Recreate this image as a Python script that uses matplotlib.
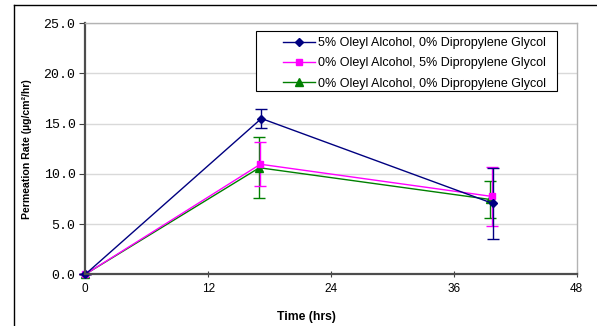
import matplotlib.pyplot as plt
from matplotlib.lines import Line2D
from matplotlib.patches import Rectangle

# permeation data
labels = ['5% Oleyl Alcohol, 0% Dipropylene Glycol',
          '0% Oleyl Alcohol, 5% Dipropylene Glycol',
          '0% Oleyl Alcohol, 0% Dipropylene Glycol']
t_blue = [0, 17.2, 39.8]
y_blue = [0, 15.5, 7.05]
e_blue = [0, 0.95, 3.5]
t_pink = [0, 17.1, 39.7]
y_pink = [0, 10.95, 7.75]
e_pink = [0, 2.2, 2.9]
t_green = [0, 17.0, 39.5]
y_green = [0, 10.6, 7.45]
e_green = [0, 3.05, 1.85]
xticks = [0, 12, 24, 36, 48]
yticks = [0, 5, 10, 15, 20, 25]

W, H = 597, 326
fig = plt.figure(figsize=(5.97, 3.26), dpi=100)
ax = fig.add_axes([0.1429, 0.1586, 0.8231, 0.7708])

# outer frame (left and top edges visible)
fig.add_artist(Line2D([13.5/W, 13.5/W], [0, 1 - 4.7/H], color='black', lw=1.0))
fig.add_artist(Line2D([13.5/W, 1.0], [1 - 4.7/H, 1 - 4.7/H], color='black', lw=1.0))

series = [(t_green, y_green, e_green, '#008000', '^', 5.5),
          (t_pink, y_pink, e_pink, '#FF00FF', 's', 5),
          (t_blue, y_blue, e_blue, '#000080', 'D', 4.5)]
for t, y, e, c, m, ms in series:
    ax.errorbar(t, y, yerr=e, color=c, marker=m, markersize=ms, lw=1.0,
                capsize=4, elinewidth=1.0, capthick=1.0, clip_on=False)

# legend box drawn separately so the entries can sit to the right like the excel one
box = Rectangle((255.7/W, 1 - 90.7/H), 301/W, 59.7/H, transform=fig.transFigure,
                facecolor='white', edgecolor='black', lw=0.8, zorder=3)
fig.add_artist(box)
handles = [Line2D([], [], color='#000080', marker='D', markersize=4, lw=1.0),
           Line2D([], [], color='#FF00FF', marker='s', markersize=5, lw=1.0),
           Line2D([], [], color='#008000', marker='^', markersize=5.5, lw=1.0)]
leg = fig.legend(handles, labels, loc='upper right', bbox_to_anchor=(557/W, 1 - 26/H),
                 frameon=False, borderpad=0.4, labelspacing=0.65, handlelength=2.6,
                 handletextpad=0.2, prop={'family': 'Liberation Sans', 'size': 9})
leg.set_zorder(4)

ax.set_xlim(0, 48)
ax.set_ylim(0, 25)
ax.set_xticks(xticks)
ax.set_yticks(yticks)
ax.set_yticklabels(['%.1f' % v for v in yticks], family='Liberation Mono', fontsize=9.5)
ax.set_xticklabels([str(v) for v in xticks], family='Liberation Sans', fontsize=8.5)
ax.tick_params(axis='both', direction='out', length=4, width=0.8, color='#404040', pad=3)
ax.tick_params(axis='x', direction='inout', length=5, pad=4)
ax.yaxis.grid(True, color='#d9d9d9', lw=1.0)
ax.set_axisbelow(True)
for s in ['left', 'bottom']:
    ax.spines[s].set_color('#4d4d4d')
    ax.spines[s].set_linewidth(1.6)
for s in ['top', 'right']:
    ax.spines[s].set_color('#b3b3b3')
    ax.spines[s].set_linewidth(1.0)

ax.set_ylabel('Permeation Rate (µg/cm²/hr)', family='Liberation Sans', fontsize=7.6,
              fontweight='bold')
ax.yaxis.set_label_coords(-0.108, 0.5)
fig.text(306/W, 1 - 316.7/H, 'Time (hrs)', family='Liberation Sans', fontsize=8.8,
         fontweight='bold', ha='center', va='center')

fig.savefig('out.png', dpi=100)
